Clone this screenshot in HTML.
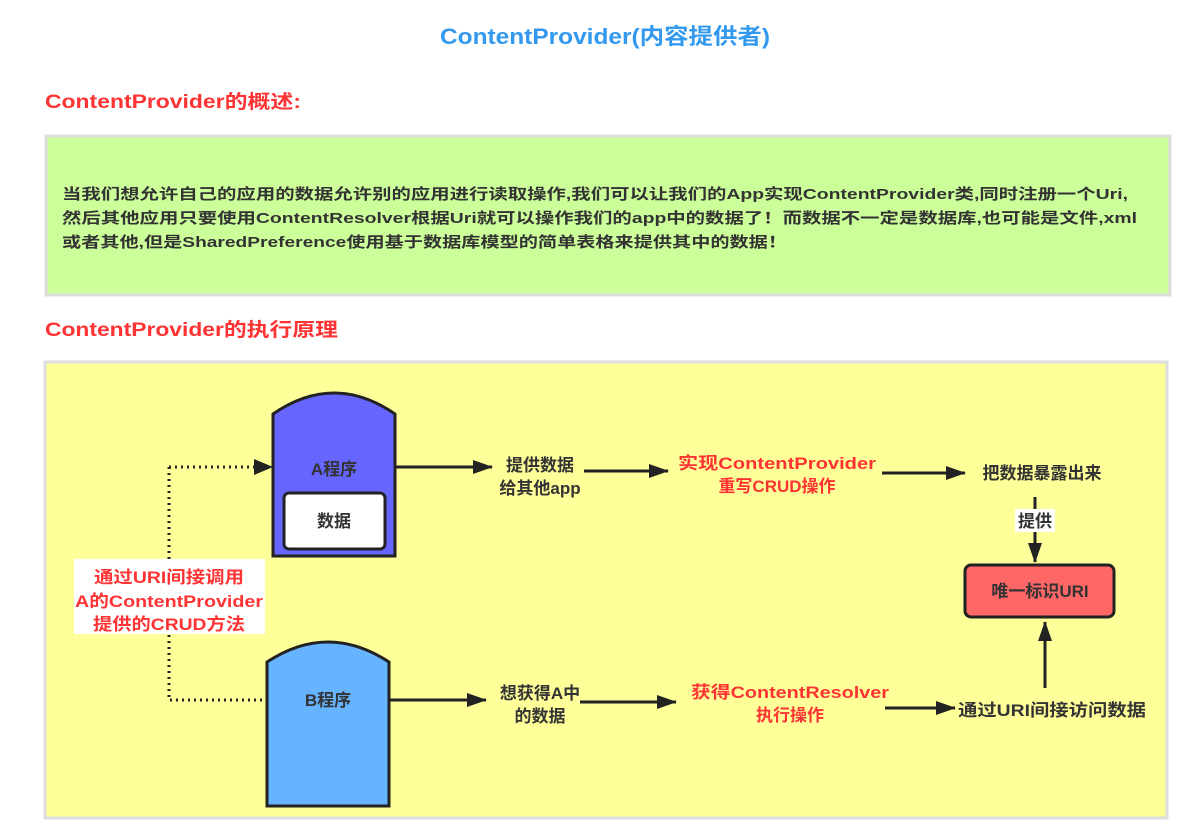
<!DOCTYPE html>
<html><head><meta charset="utf-8"><style>
html,body{margin:0;padding:0;background:#fff;}
svg{display:block;font-family:"Liberation Sans","Noto Sans CJK SC",sans-serif;font-weight:bold;}
</style></head><body>
<svg width="1189" height="829" viewBox="0 0 1189 829" xmlns="http://www.w3.org/2000/svg">
<defs>
<marker id="ab" markerWidth="20" markerHeight="14" refX="19" refY="7" orient="auto" markerUnits="userSpaceOnUse"><path d="M0,0 L20,7 L0,14 Z" fill="#222"/></marker>
</defs>
<text x="440" y="44" font-size="22" fill="#3399ee" textLength="330" lengthAdjust="spacingAndGlyphs">ContentProvider(内容提供者)</text>
<text x="45" y="108" font-size="19" fill="#ff3333" textLength="256" lengthAdjust="spacingAndGlyphs">ContentProvider的概述:</text>
<rect x="46" y="136" width="1124" height="159" fill="#ccff99" stroke="#dddddd" stroke-width="3"/>
<g font-size="15" fill="#333">
<text x="62" y="199" textLength="1066" lengthAdjust="spacingAndGlyphs">当我们想允许自己的应用的数据允许别的应用进行读取操作,我们可以让我们的App实现ContentProvider类,同时注册一个Uri,</text>
<text x="62" y="223" textLength="1075" lengthAdjust="spacingAndGlyphs">然后其他应用只要使用ContentResolver根据Uri就可以操作我们的app中的数据了！而数据不一定是数据库,也可能是文件,xml</text>
<text x="62" y="247" textLength="725" lengthAdjust="spacingAndGlyphs">或者其他,但是SharedPreference使用基于数据库模型的简单表格来提供其中的数据！</text>
</g>
<text x="45" y="336" font-size="19" fill="#ff3333" textLength="293" lengthAdjust="spacingAndGlyphs">ContentProvider的执行原理</text>
<rect x="45" y="362" width="1122" height="456" fill="#ffff99" stroke="#dddddd" stroke-width="3"/>
<!-- dotted -->
<path d="M169,467 L258,467" stroke="#222" stroke-width="3" stroke-dasharray="2,4" fill="none"/>
<path d="M254,459 L273,467 L254,475 Z" fill="#222"/>
<path d="M169,467 L169,700 L267,700" stroke="#222" stroke-width="3" stroke-dasharray="2,4" fill="none"/>
<!-- A -->
<path d="M273,556 L273,414 Q334,372 395,414 L395,556 Z" fill="#6666ff" stroke="#222" stroke-width="3"/>
<text x="334" y="475" text-anchor="middle" font-size="17" fill="#333">A程序</text>
<rect x="284" y="493" width="101" height="56" rx="5" fill="#fff" stroke="#222" stroke-width="3"/>
<text x="334" y="527" text-anchor="middle" font-size="17" fill="#333">数据</text>
<!-- B -->
<path d="M267,806 L267,662 Q328,622 389,662 L389,806 Z" fill="#66b3ff" stroke="#222" stroke-width="3"/>
<text x="328" y="706" text-anchor="middle" font-size="17" fill="#333">B程序</text>
<!-- label -->
<rect x="74" y="559" width="191" height="75" fill="#fff"/>
<g font-size="17" fill="#ff3333" text-anchor="middle">
<text x="169" y="583" textLength="150" lengthAdjust="spacingAndGlyphs">通过URI间接调用</text>
<text x="169" y="607" textLength="188" lengthAdjust="spacingAndGlyphs">A的ContentProvider</text>
<text x="169" y="630" textLength="152" lengthAdjust="spacingAndGlyphs">提供的CRUD方法</text>
</g>
<!-- arrows -->
<g stroke="#222" stroke-width="3" fill="none" marker-end="url(#ab)">
<path d="M396,467 L492,467"/>
<path d="M584,471 L668,471"/>
<path d="M882,473 L965,473"/>
<path d="M1035,497 L1035,562"/>
<path d="M1045,688 L1045,622"/>
<path d="M390,700 L486,700"/>
<path d="M580,702 L676,702"/>
<path d="M885,708 L955,708"/>
</g>
<g font-size="17" fill="#333" text-anchor="middle">
<text x="540" y="471">提供数据</text>
<text x="540" y="494">给其他app</text>
<text x="1042" y="479">把数据暴露出来</text>
<text x="540" y="699">想获得A中</text>
<text x="540" y="722">的数据</text>
<text x="1052" y="716" textLength="188" lengthAdjust="spacingAndGlyphs">通过URI间接访问数据</text>
</g>
<rect x="1015" y="509" width="40" height="23" fill="#fff"/>
<text x="1035" y="527" text-anchor="middle" font-size="17" fill="#333">提供</text>
<g font-size="17" fill="#ff3333" text-anchor="middle">
<text x="777" y="469" textLength="198" lengthAdjust="spacingAndGlyphs">实现ContentProvider</text>
<text x="777" y="492">重写CRUD操作</text>
<text x="790" y="698" textLength="198" lengthAdjust="spacingAndGlyphs">获得ContentResolver</text>
<text x="790" y="721">执行操作</text>
</g>
<rect x="965" y="565" width="149" height="52" rx="6" fill="#ff6666" stroke="#222" stroke-width="3"/>
<text x="1040" y="597" text-anchor="middle" font-size="17" fill="#333">唯一标识URI</text>
</svg>
</body></html>
